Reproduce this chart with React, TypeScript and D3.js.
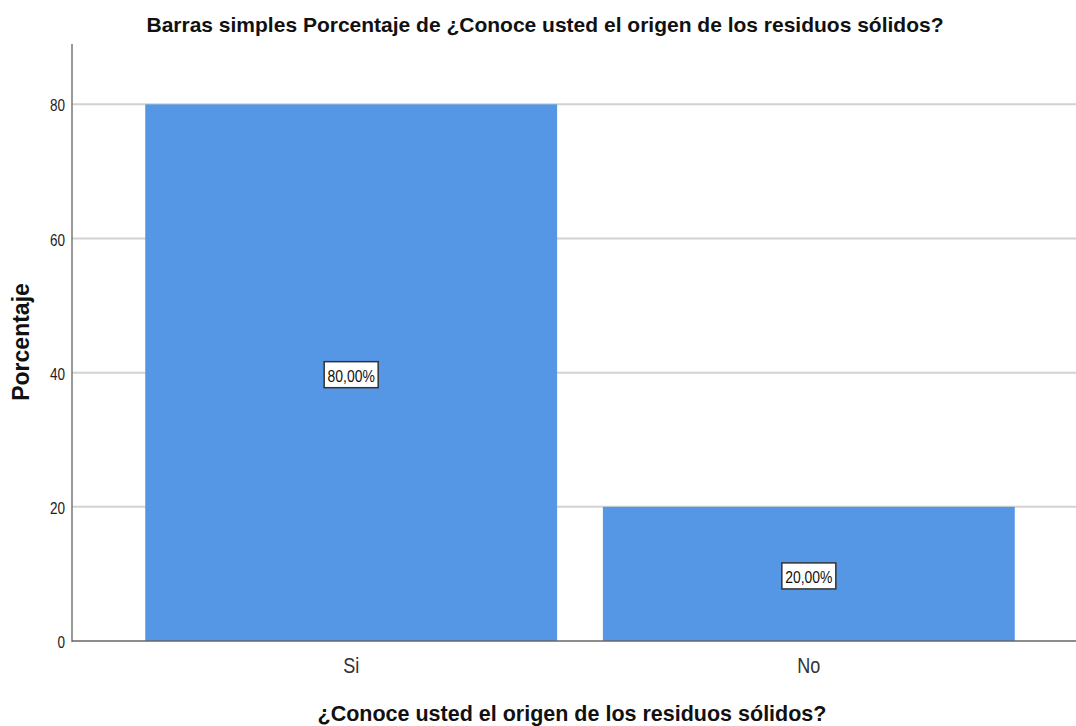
import { useEffect, useRef } from "react";
import * as d3 from "d3";

const WIDTH = 1076;
const HEIGHT = 726;
const MARGIN = { top: 44, right: -12, bottom: 85, left: 72 };

const categories = ["Si", "No"];
const percentages = [80, 20];
const valueLabels = ["80,00%", "20,00%"];
const yTicks = [0, 20, 40, 60, 80];

const TITLE = "Barras simples Porcentaje de ¿Conoce usted el origen de los residuos sólidos?";
const X_TITLE = "¿Conoce usted el origen de los residuos sólidos?";
const Y_TITLE = "Porcentaje";
const FONT = "'Liberation Sans', Arial, sans-serif";
// no narrow face installed, so squeeze the regular one
const SQUEEZE = "scale(0.82,1)";

type Datum = { cat: string; value: number; label: string };

export default function App() {
  const svgRef = useRef<SVGSVGElement | null>(null);

  useEffect(() => {
    if (!svgRef.current) return;
    const svg = d3.select(svgRef.current);
    svg.selectAll("*").remove();

    const data: Datum[] = categories.map((c, i) => ({
      cat: c,
      value: percentages[i],
      label: valueLabels[i],
    }));

    const x0 = MARGIN.left;
    const x1 = WIDTH - MARGIN.right;
    const yBottom = HEIGHT - MARGIN.bottom;

    const x = d3
      .scaleBand()
      .domain(categories)
      .range([x0, x1])
      .paddingInner(0.1)
      .paddingOuter(0.16);

    const y = d3.scaleLinear().domain([0, 89]).range([yBottom, MARGIN.top]);

    svg
      .append("rect")
      .attr("width", WIDTH)
      .attr("height", HEIGHT)
      .attr("fill", "#ffffff");

    // gridlines
    svg
      .append("g")
      .selectAll("line")
      .data(yTicks.filter((t) => t > 0))
      .enter()
      .append("line")
      .attr("x1", x0)
      .attr("x2", x1)
      .attr("y1", (d) => y(d))
      .attr("y2", (d) => y(d))
      .attr("stroke", "#d2d2d2")
      .attr("stroke-width", 2);

    // bars
    svg
      .append("g")
      .selectAll("rect")
      .data(data)
      .enter()
      .append("rect")
      .attr("x", (d) => x(d.cat) ?? 0)
      .attr("width", x.bandwidth())
      .attr("y", (d) => y(d.value))
      .attr("height", (d) => yBottom - y(d.value))
      .attr("fill", "#5596e5");

    // y axis
    const yAxis = svg
      .append("g")
      .attr("transform", `translate(${x0},0)`)
      .call(d3.axisLeft(y).tickValues(yTicks).tickSize(0).tickPadding(8.5));
    yAxis.select(".domain").remove();
    yAxis
      .selectAll("text")
      .attr("fill", "#222")
      .attr("dy", "0.4em")
      .attr("transform", SQUEEZE)
      .style("font-family", FONT)
      .style("font-size", "16.5px");
    svg
      .append("line")
      .attr("x1", x0)
      .attr("x2", x0)
      .attr("y1", MARGIN.top)
      .attr("y2", yBottom + 1)
      .attr("stroke", "#777")
      .attr("stroke-width", 1.5);

    // x axis
    const xAxis = svg
      .append("g")
      .attr("transform", `translate(0,${yBottom})`)
      .call(d3.axisBottom(x).tickSize(0).tickPadding(16));
    xAxis.select(".domain").remove();
    xAxis
      .selectAll("text")
      .attr("fill", "#333")
      .attr("transform", SQUEEZE)
      .style("font-family", FONT)
      .style("font-size", "22px");
    svg
      .append("line")
      .attr("x1", x0)
      .attr("x2", x1)
      .attr("y1", yBottom)
      .attr("y2", yBottom)
      .attr("stroke", "#666")
      .attr("stroke-width", 1.5);

    // value labels
    const lbl = svg
      .append("g")
      .selectAll("g")
      .data(data)
      .enter()
      .append("g")
      .attr(
        "transform",
        (d) => `translate(${(x(d.cat) ?? 0) + x.bandwidth() / 2},${y(d.value / 2)})`
      );
    lbl
      .append("rect")
      .attr("x", -27)
      .attr("y", -11)
      .attr("width", 54)
      .attr("height", 26)
      .attr("fill", "#ffffff")
      .attr("stroke", "#333")
      .attr("stroke-width", 1.5);
    lbl
      .append("text")
      .attr("text-anchor", "middle")
      .attr("dy", "0.42em")
      .attr("y", 2)
      .attr("transform", SQUEEZE)
      .attr("fill", "#111")
      .style("font-family", FONT)
      .style("font-size", "17px")
      .text((d) => d.label);

    // titles
    svg
      .append("text")
      .attr("x", 545)
      .attr("y", 32)
      .attr("text-anchor", "middle")
      .attr("fill", "#111")
      .style("font-family", FONT)
      .style("font-weight", "bold")
      .style("font-size", "21px")
      .text(TITLE);

    svg
      .append("text")
      .attr("x", 572)
      .attr("y", 721)
      .attr("text-anchor", "middle")
      .attr("fill", "#111")
      .style("font-family", FONT)
      .style("font-weight", "bold")
      .style("font-size", "21.5px")
      .text(X_TITLE);

    svg
      .append("text")
      .attr("transform", `translate(29,${342}) rotate(-90)`)
      .attr("text-anchor", "middle")
      .attr("fill", "#111")
      .style("font-family", FONT)
      .style("font-weight", "bold")
      .style("font-size", "23px")
      .text(Y_TITLE);
  }, []);

  return (
    <svg
      ref={svgRef}
      width={WIDTH}
      height={HEIGHT}
      style={{ position: "absolute", left: 0, top: 0, display: "block" }}
    />
  );
}
